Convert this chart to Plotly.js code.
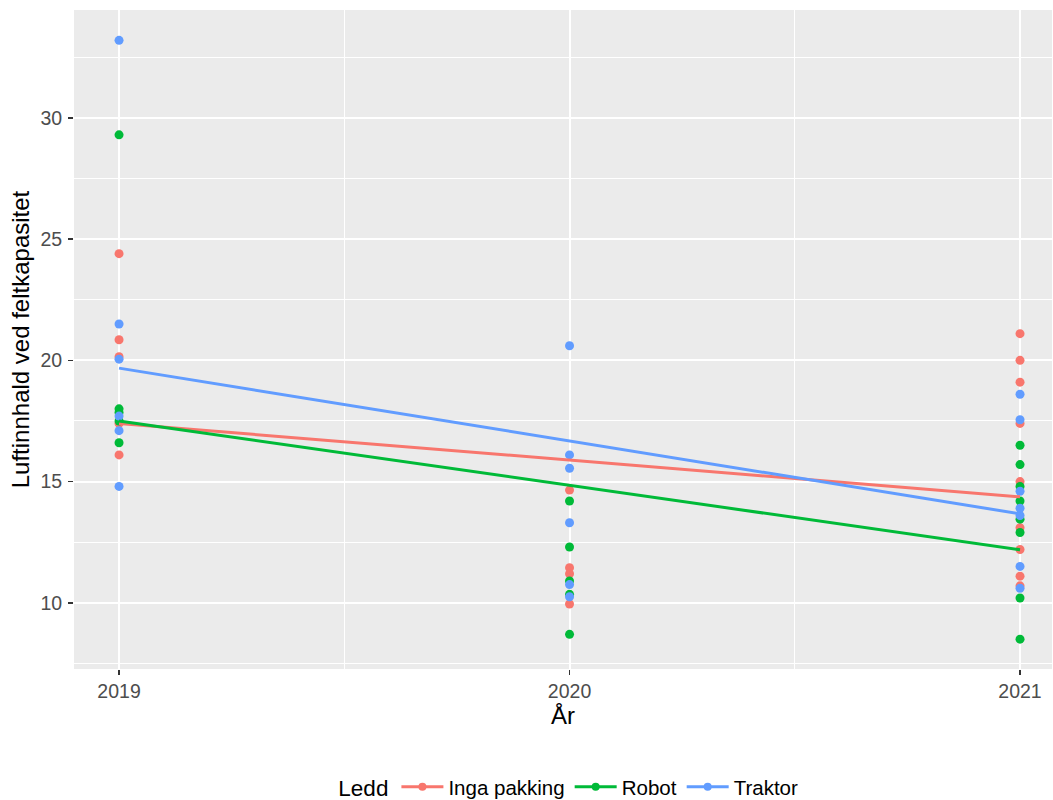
<!DOCTYPE html>
<html>
<head>
<meta charset="utf-8">
<script src="https://cdn.plot.ly/plotly-3.0.1.min.js"></script>
<style>html,body{margin:0;padding:0;background:#fff;}#chart{width:1053px;height:800px;}</style>
</head>
<body>
<div id="chart"></div>
<script>
// ---- data ----
const years = [2019, 2020, 2021];
const groups = ["Inga pakking", "Robot", "Traktor"];
const colors = ["#F8766D", "#00BA38", "#619CFF"];

const inga2019 = [24.4, 20.85, 20.15, 17.4, 16.1];
const inga2020 = [14.65, 11.45, 11.2, 9.95];
const inga2021 = [21.1, 20.0, 19.1, 17.4, 15.0, 13.1, 12.2, 11.1, 10.7];

const robot2019 = [29.3, 18.0, 17.85, 17.5, 16.6];
const robot2020 = [14.2, 12.3, 10.9, 10.35, 8.7];
const robot2021 = [16.5, 15.7, 14.8, 14.2, 13.45, 12.9, 10.2, 8.5];

const traktor2019 = [33.2, 21.5, 20.05, 17.7, 17.1, 14.8];
const traktor2020 = [20.6, 16.1, 15.55, 13.3, 10.75, 10.25];
const traktor2021 = [18.6, 17.55, 14.6, 13.9, 13.6, 11.5, 10.6];

// fitted (linear smooth) values at each year
const fitInga = [17.4, 15.9, 14.37];
const fitRobot = [17.5, 14.85, 12.19];
const fitTraktor = [19.68, 16.68, 13.67];

const xTickLabels = ["2019", "2020", "2021"];
const yTicks = [10, 15, 20, 25, 30];

const pointSets = [
  [inga2019, inga2020, inga2021],
  [robot2019, robot2020, robot2021],
  [traktor2019, traktor2020, traktor2021]
];
const fits = [fitInga, fitRobot, fitTraktor];

const traces = [];
// points
pointSets.forEach((sets, gi) => {
  const xs = [], ys = [];
  sets.forEach((vals, yi) => vals.forEach(v => { xs.push(years[yi]); ys.push(v); }));
  traces.push({
    type: "scatter", mode: "markers", x: xs, y: ys, name: groups[gi],
    marker: {color: colors[gi], size: 9}, showlegend: false, hoverinfo: "skip"
  });
});
// fit lines
fits.forEach((f, gi) => {
  traces.push({
    type: "scatter", mode: "lines", x: years, y: f, name: groups[gi],
    line: {color: colors[gi], width: 3}, showlegend: false, hoverinfo: "skip"
  });
});
// legend entries
groups.forEach((g, gi) => {
  traces.push({
    type: "scatter", mode: "lines+markers", x: [null], y: [null], name: g,
    line: {color: colors[gi], width: 3}, marker: {color: colors[gi], size: 8}, showlegend: true
  });
});

const layout = {
  width: 1053, height: 800,
  margin: {l: 74, r: 1, t: 10, b: 131, autoexpand: false},
  paper_bgcolor: "#FFFFFF",
  plot_bgcolor: "#EBEBEB",
  font: {family: "Liberation Sans, Arial, sans-serif", color: "#000000"},
  showlegend: true,
  xaxis: {
    range: [2018.9, 2021.071],
    tickvals: years, ticktext: xTickLabels,
    showgrid: true, gridcolor: "#FFFFFF", gridwidth: 2,
    minor: {dtick: 0.5, tick0: 2019, showgrid: true, gridcolor: "#FFFFFF", gridwidth: 1, ticks: ""},
    zeroline: false, showline: false,
    ticks: "outside", ticklen: 5, tickwidth: 1.5, tickcolor: "#333333",
    ticklabelstandoff: 0,
    tickfont: {size: 19.5, color: "#4D4D4D"},
    title: {text: "År", font: {size: 24, color: "#000000"}, standoff: 5}
  },
  yaxis: {
    range: [7.27, 34.45],
    tickvals: yTicks,
    showgrid: true, gridcolor: "#FFFFFF", gridwidth: 2,
    minor: {dtick: 2.5, tick0: 7.5, showgrid: true, gridcolor: "#FFFFFF", gridwidth: 1, ticks: ""},
    zeroline: false, showline: false,
    ticks: "outside", ticklen: 5, tickwidth: 1.5, tickcolor: "#333333",
    ticklabelstandoff: 2,
    tickfont: {size: 19.5, color: "#4D4D4D"},
    title: {text: "Luftinnhald ved feltkapasitet", font: {size: 24, color: "#000000"}, standoff: 3}
  },
  legend: {
    orientation: "h", x: 0.507, xanchor: "center", y: -0.179, yanchor: "middle",
    itemwidth: 42, valign: "middle",
    font: {size: 20.5, color: "#000000"},
    title: {text: "Ledd", font: {size: 22.5, color: "#000000"}, side: "left"},
    bgcolor: "rgba(0,0,0,0)"
  }
};

Plotly.newPlot("chart", traces, layout, {displayModeBar: false, staticPlot: true});
</script>
</body>
</html>
